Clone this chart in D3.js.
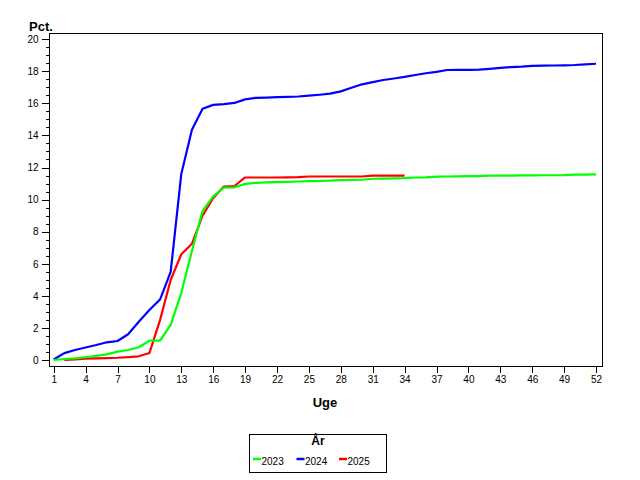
<!DOCTYPE html>
<html>
<head>
<meta charset="utf-8">
<script src="https://cdn.jsdelivr.net/npm/d3@7"></script>
<style>
  body { margin: 0; background: #fff; }
  svg { display: block; }
  text { font-family: "Liberation Sans", Arial, sans-serif; fill: #000; }
</style>
</head>
<body>
<svg id="chart" width="640" height="480"></svg>
<script>
const weeks = d3.range(1, 53);
const xTicks = [1, 4, 7, 10, 13, 16, 19, 22, 25, 28, 31, 34, 37, 40, 43, 46, 49, 52];
const yTicks = [0, 2, 4, 6, 8, 10, 12, 14, 16, 18, 20];
const seriesNames = ["2023", "2024", "2025"];
const seriesColors = ["#00ff00", "#0000ff", "#ff0000"];

const v2023 = [0.02, 0.08, 0.12, 0.19, 0.27, 0.37, 0.54, 0.64, 0.81, 1.22,
  1.22, 2.2, 4.2, 6.8, 9.3, 10.2, 10.75, 10.77, 10.98, 11.05,
  11.07, 11.09, 11.11, 11.13, 11.15, 11.16, 11.18, 11.22, 11.23, 11.24,
  11.3, 11.31, 11.32, 11.34, 11.38, 11.39, 11.43, 11.44, 11.45, 11.46,
  11.47, 11.5, 11.5, 11.5, 11.51, 11.51, 11.52, 11.52, 11.53, 11.56,
  11.56, 11.57];
const v2024 = [0.05, 0.45, 0.64, 0.8, 0.95, 1.12, 1.2, 1.62, 2.4, 3.13,
  3.78, 5.5, 11.6, 14.35, 15.66, 15.9, 15.95, 16.02, 16.24, 16.33,
  16.35, 16.38, 16.4, 16.42, 16.47, 16.53, 16.6, 16.74, 16.97, 17.18,
  17.32, 17.45, 17.54, 17.64, 17.76, 17.87, 17.95, 18.07, 18.08, 18.08,
  18.09, 18.14, 18.2, 18.25, 18.28, 18.33, 18.34, 18.35, 18.36, 18.38,
  18.42, 18.46];
const v2025 = [null, 0.02, 0.06, 0.1, 0.12, 0.14, 0.16, 0.2, 0.25, 0.45,
  2.5, 5.0, 6.6, 7.25, 9.0, 10.1, 10.82, 10.85, 11.38, 11.38,
  11.38, 11.38, 11.39, 11.4, 11.44, 11.44, 11.44, 11.44, 11.44, 11.44,
  11.5, 11.5, 11.5, 11.5];

const seriesValues = [v2023, v2024, v2025];

const svg = d3.select("#chart");
const frame = { left: 49, right: 602, top: 33, bottom: 366 };

const x = d3.scaleLinear().domain([1, 52]).range([53.7, 596]);
const y = d3.scaleLinear().domain([0, 20]).range([360.3, 39]);

// frame
svg.append("rect")
  .attr("x", frame.left + 0.5).attr("y", frame.top + 0.5)
  .attr("width", frame.right - frame.left).attr("height", frame.bottom - frame.top)
  .attr("fill", "none").attr("stroke", "#000").attr("stroke-width", 1.5)
  .attr("shape-rendering", "crispEdges");

// y axis major
const yAxis = d3.axisLeft(y).tickValues(yTicks).tickSize(8).tickSizeOuter(0).tickPadding(3);
const gy = svg.append("g").attr("transform", `translate(${frame.left + 0.5},0)`).call(yAxis);
gy.select(".domain").remove();
gy.selectAll("text").style("font-size", "10px").attr("font-family", "Liberation Sans, Arial, sans-serif");
gy.selectAll("line").attr("shape-rendering", "crispEdges");

// y axis minor
const minor = d3.range(0, 20.01, 0.5).filter(v => v % 2 !== 0);
const yMinor = d3.axisLeft(y).tickValues(minor).tickSize(4).tickSizeOuter(0).tickFormat("");
const gym = svg.append("g").attr("transform", `translate(${frame.left + 0.5},0)`).call(yMinor);
gym.select(".domain").remove();
gym.selectAll("line").attr("shape-rendering", "crispEdges");

// x axis
const xAxis = d3.axisBottom(x).tickValues(xTicks).tickSize(6).tickSizeOuter(0).tickPadding(3);
const gx = svg.append("g").attr("transform", `translate(0,${frame.bottom + 0.5})`).call(xAxis);
gx.select(".domain").remove();
gx.selectAll("text").style("font-size", "10px");
gx.selectAll("line").attr("shape-rendering", "crispEdges");

// axis titles
svg.append("text").attr("x", 29).attr("y", 31)
  .style("font-size", "13px").style("font-weight", "bold").text("Pct.");
svg.append("text").attr("x", 325).attr("y", 407).attr("text-anchor", "middle")
  .style("font-size", "13px").style("font-weight", "bold").text("Uge");

// lines (2025 first, 2023 last)
const line = d3.line()
  .defined(d => d.v !== null && d.v !== undefined)
  .x(d => x(d.w)).y(d => y(d.v));

[2, 1, 0].forEach(i => {
  const data = seriesValues[i].map((v, k) => ({ w: weeks[k], v }));
  svg.append("path").datum(data)
    .attr("d", line)
    .attr("fill", "none")
    .attr("stroke", seriesColors[i])
    .attr("stroke-width", 2.2)
    .attr("stroke-linejoin", "round");
});

// legend
const lg = svg.append("g");
lg.append("rect").attr("x", 249.5).attr("y", 434.5).attr("width", 137).attr("height", 38)
  .attr("fill", "none").attr("stroke", "#000").attr("stroke-width", 1)
  .attr("shape-rendering", "crispEdges");
lg.append("text").attr("x", 318).attr("y", 445).attr("text-anchor", "middle")
  .style("font-size", "12px").style("font-weight", "bold").text("År");
const legX = [253, 296.5, 339];
seriesNames.forEach((n, i) => {
  lg.append("line").attr("x1", legX[i]).attr("x2", legX[i] + 8)
    .attr("y1", 459).attr("y2", 459)
    .attr("stroke", seriesColors[i]).attr("stroke-width", 2.5);
  lg.append("text").attr("x", legX[i] + 8.5).attr("y", 465)
    .style("font-size", "10px").text(n);
});
</script>
</body>
</html>
